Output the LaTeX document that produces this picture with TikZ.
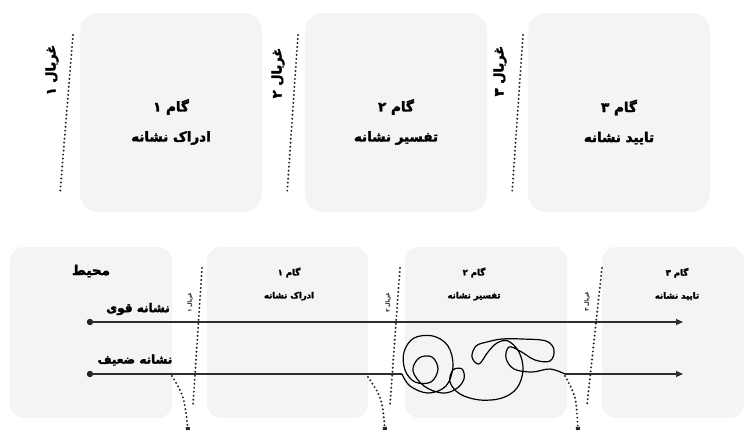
\documentclass[tikz,border=0pt]{standalone}
\usepackage{fontspec}
\newfontfamily\farsi[Script=Arabic, FakeBold=2.6]{DejaVu Sans}
\TeXXeTstate=1
\usetikzlibrary{positioning,arrows.meta}
\newcommand{\fa}[1]{\beginR #1\endR}

\begin{document}
\begin{tikzpicture}[x=1pt, y=-1pt,
    stepbox/.style={fill=gray!9, rounded corners=18pt, minimum width=182pt, minimum height=199pt},
    lowbox/.style={fill=gray!9, rounded corners=14pt, minimum width=162pt, minimum height=171pt},
    steptext/.style={align=center, font=\farsi\bfseries\fontsize{13.5}{30}\selectfont},
    lowtext/.style={align=center, font=\farsi\bfseries\fontsize{8.5}{23}\selectfont},
    envtext/.style={font=\farsi\bfseries\fontsize{12}{13}\selectfont},
    sievetext/.style={rotate=90, font=\farsi\bfseries\fontsize{13}{14}\selectfont},
    tinytext/.style={rotate=90, text=gray!60!black, font=\farsi\bfseries\fontsize{5}{5}\selectfont},
    sieve/.style={line width=2.2pt, line cap=round, dash pattern=on 0pt off 4pt, gray!30!black},
    fall/.style={sieve, -{Square[length=3pt,width=4pt]}},
    signal/.style={line width=1.2pt, gray!35!black, -{Triangle[length=7pt,width=6pt]}},
    scribble/.style={line width=1.2pt, black}]
    \useasboundingbox (0,0) rectangle (753,432);

    % top row: three steps
    \node[stepbox] (perceive_box) at (171,112.5) {};
    \node[stepbox] (interpret_box) at (396,112.5) {};
    \node[stepbox] (confirm_box) at (619,112.5) {};
    \node[steptext] (perceive_name) at (171,122) {\fa{گام ۱}\\ \fa{ادراک نشانه}};
    \node[steptext] (interpret_name) at (396,122) {\fa{گام ۲}\\ \fa{تفسیر نشانه}};
    \node[steptext] (confirm_name) at (619,122) {\fa{گام ۳}\\ \fa{تایید نشانه}};

    \coordinate (sieve1_top) at (73,35);   \coordinate (sieve1_bottom) at (60,194);
    \coordinate (sieve2_top) at (298,35);  \coordinate (sieve2_bottom) at (287,194);
    \coordinate (sieve3_top) at (523,35);  \coordinate (sieve3_bottom) at (512,194);
    \draw[sieve] (sieve1_top) -- (sieve1_bottom);
    \draw[sieve] (sieve2_top) -- (sieve2_bottom);
    \draw[sieve] (sieve3_top) -- (sieve3_bottom);
    \node[sievetext] (sieve1_name) at (52,70) {\fa{غربال ۱}};
    \node[sievetext] (sieve2_name) at (278,73) {\fa{غربال ۲}};
    \node[sievetext] (sieve3_name) at (500,71) {\fa{غربال ۳}};

    % bottom row: environment and steps
    \node[lowbox] (env_box) at (91,332.5) {};
    \node[lowbox, minimum width=161pt] (perceive_low) at (287.5,332.5) {};
    \node[lowbox] (interpret_low) at (486,332.5) {};
    \node[lowbox, minimum width=142pt] (confirm_low) at (673,332.5) {};
    \node[lowtext] (perceive_small) at (289,284) {\fa{گام ۱}\\ \fa{ادراک نشانه}};
    \node[lowtext] (interpret_small) at (474,284) {\fa{گام ۲}\\ \fa{تفسیر نشانه}};
    \node[lowtext] (confirm_small) at (677,284) {\fa{گام ۳}\\ \fa{تایید نشانه}};
    \node[envtext, font=\farsi\bfseries\fontsize{13.5}{14}\selectfont] (env_name) at (91,271) {\fa{محیط}};
    \node[envtext] (strong_name) at (138,309) {\fa{نشانه قوی}};
    \node[envtext] (weak_name) at (135,360) {\fa{نشانه ضعیف}};

    \coordinate (low1_top) at (202,268);  \coordinate (low1_bottom) at (193,405);
    \coordinate (low2_top) at (400,268);  \coordinate (low2_bottom) at (390,405);
    \coordinate (low3_top) at (602,268);  \coordinate (low3_bottom) at (587,405);
    \draw[sieve] (low1_top) -- (low1_bottom);
    \draw[sieve] (low2_top) -- (low2_bottom);
    \draw[sieve] (low3_top) -- (low3_bottom);
    \node[tinytext] (low1_name) at (190,302) {\fa{غربال ۱}};
    \node[tinytext] (low2_name) at (388,302) {\fa{غربال ۲}};
    \node[tinytext] (low3_name) at (587,301) {\fa{غربال ۳}};

    % signals
    \coordinate (strong_in) at (90,322);  \coordinate (strong_out) at (683,322);
    \coordinate (weak_in) at (90,374);    \coordinate (weak_knot) at (402,374);
    \coordinate (weak_untie) at (565,374); \coordinate (weak_out) at (683,374);
    \fill[gray!25!black] (strong_in) circle (3.2);
    \fill[gray!25!black] (weak_in) circle (3.2);
    \draw[signal] (strong_in) -- (strong_out);
    \draw[line width=1.2pt, gray!35!black] (weak_in) -- (weak_knot);
    \draw[signal] (weak_untie) -- (weak_out);
    \draw[scribble] plot[smooth, tension=0.6] coordinates {(402,374) (410,386) (428,393) (446,386) (453,366)
        (448,346) (433,336) (414,338) (404,352) (405,370) (415,382) (431,382) (438,369) (432,357)
        (419,358) (413,371) (424,386) (442,393) (456,389) (464,379) (462,369) (453,370) (450,382)
        (460,394) (480,400) (502,398) (517,388) (523,370) (519,352) (508,341) (497,343) (488,352)
        (479,364) (472,357) (476,346) (487,342) (502,339) (522,339) (546,341) (554,350) (550,361)
        (535,360) (520,351) (509,347) (506,358) (514,369) (532,372) (550,369) (565,374)};

    % weak signals falling through
    \coordinate (fall1_top) at (172,376);  \coordinate (fall1_end) at (188,430);
    \coordinate (fall2_top) at (368,377);  \coordinate (fall2_end) at (385,430);
    \coordinate (fall3_top) at (565,376);  \coordinate (fall3_end) at (578,430);
    \draw[fall] (fall1_top) .. controls (184,396) .. (fall1_end);
    \draw[fall] (fall2_top) .. controls (382,398) .. (fall2_end);
    \draw[fall] (fall3_top) .. controls (576,396) .. (fall3_end);
\end{tikzpicture}
\end{document}
